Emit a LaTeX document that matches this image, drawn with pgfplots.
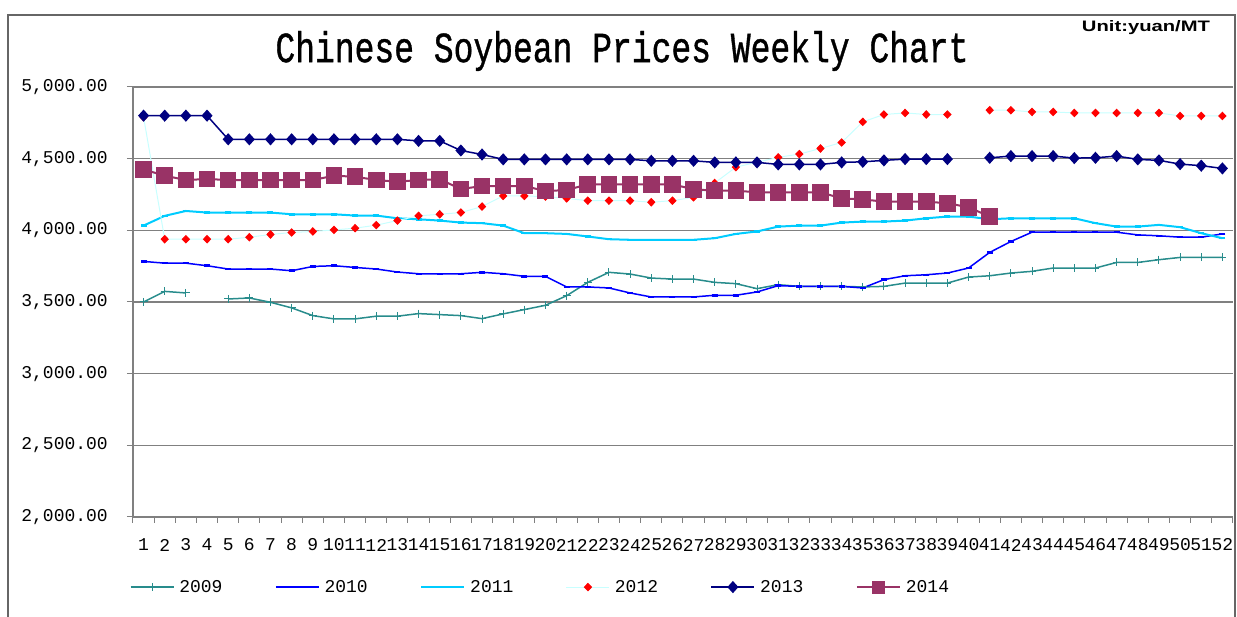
\documentclass[border=0pt]{standalone}
\usepackage{fontspec}
\setmainfont{Liberation Mono}
\newfontfamily\sansb{Liberation Sans}
\newfontfamily\titlefont{Liberation Mono}[FakeBold=1]
\usepackage{pgfplots}
\usetikzlibrary{calc}
\pgfplotsset{compat=1.18}
\definecolor{c09}{RGB}{40,140,140}
\definecolor{c10}{RGB}{0,0,255}
\definecolor{c11}{RGB}{0,204,255}
\definecolor{c12}{RGB}{200,255,255}
\definecolor{c12m}{RGB}{255,0,0}
\definecolor{c13}{RGB}{0,0,128}
\definecolor{c14}{RGB}{153,51,102}
\definecolor{gridc}{RGB}{128,128,128}
\begin{document}
\begin{tikzpicture}[x=1pt,y=1pt]
\begin{axis}[
  scale only axis,
  width=1100pt, height=430pt,
  xmin=0.5, xmax=52.5, ymin=2000, ymax=5000,
  axis x line*=bottom, axis y line*=left,
  axis line style={gridc, line width=1.2pt},
  unbounded coords=jump,
  xtick={1,...,52},
  minor xtick={0.5,1.5,...,52.5},
  major x tick style={draw=none},
  minor x tick style={gridc, line width=1pt},
  minor tick length=6pt,
  major tick length=6pt,
  tick align=outside,
  ytick={2000,2500,...,5000},
  yticklabels={{2,000.00},{2,500.00},{3,000.00},{3,500.00},{4,000.00},{4,500.00},{5,000.00}},
  ytick style={gridc, line width=1pt},
  ymajorgrids=true,
  major grid style={gridc, line width=1.2pt},
  /pgf/number format/assume math mode=true,
  xticklabel={\pgfmathprintnumber{\tick}},
  xticklabel style={font=\fontsize{18}{18}\selectfont, anchor=center, inner sep=0pt, yshift=-22pt},
  yticklabel style={font=\fontsize{18}{18}\selectfont, anchor=east, inner sep=0pt, xshift=-19pt},
  legend columns=6,
  legend style={draw=none, fill=none, at={(0.3695,-0.163)}, anchor=center,
    font=\fontsize{18}{18}\selectfont, nodes={inner sep=0pt},
    /tikz/every even column/.append style={column sep=52.5pt},
    /tikz/every odd column/.append style={column sep=5pt}},
  legend image code/.code={\draw[mark repeat=2,mark phase=2,#1] plot coordinates {(0pt,0pt) (21.5pt,0pt) (43pt,0pt)};},
]
\coordinate (ll) at (rel axis cs:0,0);
\addplot[color=c09, line width=1.5pt, mark=+, mark size=4pt, mark options={line width=1pt}] coordinates {
(1,3500)(2,3574)(3,3563)(4,nan)(5,3521)(6,3528)(7,3498)(8,3459)(9,3405)(10,3382)
(11,3382)(12,3401)(13,3401)(14,3419)(15,3412)(16,3405)(17,3384)(18,3417)(19,3447)(20,3477)
(21,3544)(22,3637)(23,3707)(24,3695)(25,3667)(26,3660)(27,3660)(28,3637)(29,3628)(30,3593)
(31,3621)(32,3609)(33,3609)(34,3609)(35,3605)(36,3609)(37,3632)(38,3632)(39,3632)(40,3674)
(41,3683)(42,3702)(43,3714)(44,3737)(45,3737)(46,3737)(47,3776)(48,3776)(49,3795)(50,3811)
(51,3811)(52,3811)};
\addlegendentry{2009}
\addplot[color=c10, line width=1.5pt, mark=-, mark size=3pt, mark options={line width=2.5pt}] coordinates {
(1,3783)(2,3771)(3,3771)(4,3753)(5,3730)(6,3730)(7,3730)(8,3718)(9,3748)(10,3753)
(11,3741)(12,3730)(13,3709)(14,3697)(15,3697)(16,3697)(17,3707)(18,3697)(19,3679)(20,3679)
(21,3605)(22,3605)(23,3598)(24,3563)(25,3535)(26,3535)(27,3535)(28,3547)(29,3547)(30,3570)
(31,3614)(32,3609)(33,3609)(34,3609)(35,3598)(36,3656)(37,3683)(38,3690)(39,3702)(40,3737)
(41,3846)(42,3922)(43,3987)(44,3987)(45,3987)(46,3987)(47,3987)(48,3968)(49,3962)(50,3952)
(51,3952)(52,3975)};
\addlegendentry{2010}
\addplot[color=c11, line width=2pt, mark=-, mark size=3pt, mark options={line width=2.5pt}] coordinates {
(1,4033)(2,4101)(3,4135)(4,4124)(5,4124)(6,4124)(7,4124)(8,4112)(9,4112)(10,4112)
(11,4103)(12,4103)(13,4084)(14,4077)(15,4068)(16,4054)(17,4050)(18,4033)(19,3980)(20,3980)
(21,3975)(22,3957)(23,3938)(24,3934)(25,3934)(26,3934)(27,3934)(28,3945)(29,3975)(30,3992)
(31,4026)(32,4033)(33,4033)(34,4054)(35,4061)(36,4061)(37,4068)(38,4084)(39,4096)(40,4096)
(41,4077)(42,4084)(43,4084)(44,4084)(45,4084)(46,4050)(47,4026)(48,4026)(49,4038)(50,4022)
(51,3980)(52,3945)};
\addlegendentry{2011}
\addplot[color=c12, line width=1pt, mark=diamond*, mark size=3.6pt, mark options={c12m, xscale=1.3}] coordinates {
(1,4790)(2,3938)(3,3938)(4,3938)(5,3938)(6,3952)(7,3971)(8,3985)(9,3992)(10,4003)
(11,4015)(12,4036)(13,4068)(14,4101)(15,4112)(16,4124)(17,4166)(18,4240)(19,4240)(20,4235)
(21,4223)(22,4207)(23,4207)(24,4207)(25,4196)(26,4207)(27,4230)(28,4330)(29,4441)(30,4475)
(31,4509)(32,4532)(33,4571)(34,4613)(35,4757)(36,4808)(37,4819)(38,4808)(39,4808)(40,nan)
(41,4838)(42,4838)(43,4826)(44,4826)(45,4819)(46,4819)(47,4819)(48,4819)(49,4819)(50,4798)
(51,4798)(52,4798)};
\addlegendentry{2012}
\addplot[color=c13, line width=1.5pt, mark=diamond*, mark size=5pt, mark options={xscale=1.2}] coordinates {
(1,4800)(2,4800)(3,4800)(4,4800)(5,4635)(6,4635)(7,4635)(8,4635)(9,4635)(10,4635)
(11,4635)(12,4635)(13,4635)(14,4624)(15,4624)(16,4557)(17,4529)(18,4495)(19,4495)(20,4495)
(21,4495)(22,4495)(23,4495)(24,4495)(25,4485)(26,4485)(27,4485)(28,4474)(29,4474)(30,4474)
(31,4460)(32,4460)(33,4460)(34,4474)(35,4478)(36,4488)(37,4497)(38,4497)(39,4497)(40,nan)
(41,4506)(42,4518)(43,4518)(44,4518)(45,4504)(46,4506)(47,4518)(48,4495)(49,4488)(50,4462)
(51,4451)(52,4432)};
\addlegendentry{2013}
\addplot[color=c14, line width=2pt, mark=square*, mark size=7.3pt, legend image post style={mark size=5.5pt}] coordinates {
(1,4425)(2,4381)(3,4351)(4,4358)(5,4351)(6,4351)(7,4351)(8,4351)(9,4351)(10,4381)
(11,4374)(12,4351)(13,4339)(14,4351)(15,4356)(16,4288)(17,4309)(18,4309)(19,4309)(20,4274)
(21,4281)(22,4321)(23,4321)(24,4321)(25,4321)(26,4321)(27,4286)(28,4277)(29,4277)(30,4265)
(31,4265)(32,4265)(33,4265)(34,4223)(35,4216)(36,4200)(37,4200)(38,4200)(39,4189)(40,4161)
(41,4096)};
\addlegendentry{2014}
\end{axis}
\begin{scope}[shift={($(ll)+(-133,-100)$)}]
\path[use as bounding box] (0,0) rectangle (1237,617);
\draw[black!60, line width=1.2pt] (8,0) -- (8,602) -- (1235,602) -- (1235,0);
\node[font=\titlefont\fontsize{33}{33}\selectfont] at (622,566) {\scalebox{1}[1.3]{Chinese Soybean Prices Weekly Chart}};
\node[font=\sansb\bfseries, inner sep=0pt] at (1146,589) {\resizebox{128pt}{11pt}{Unit:yuan/MT}};
\end{scope}
\end{tikzpicture}
\end{document}
